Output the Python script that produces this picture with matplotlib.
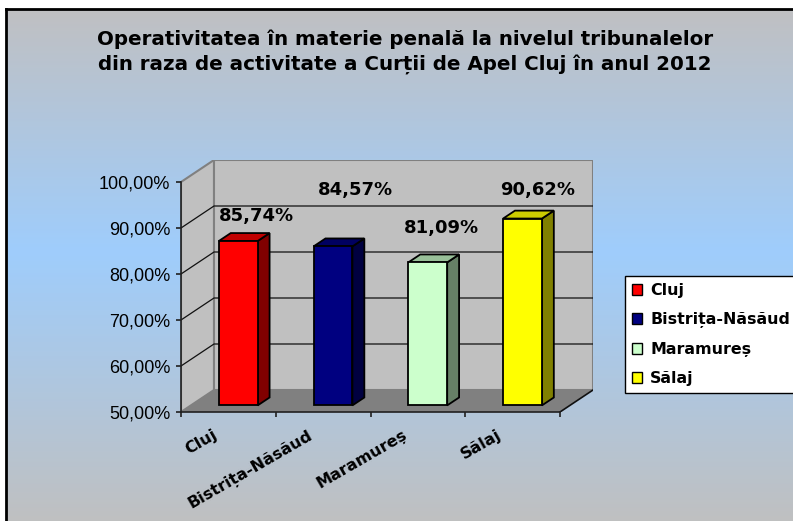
import matplotlib
matplotlib.use("Agg")
import matplotlib.pyplot as plt
import numpy as np
from matplotlib.patches import Polygon, Patch
from matplotlib.colors import LinearSegmentedColormap
from matplotlib.transforms import ScaledTranslation

plt.rcParams["font.family"] = ["Liberation Sans", "DejaVu Sans"]
BOLD = ["DejaVu Sans"]  # wider bold face, closer to the spaced-out original

# data
categories = ["Cluj", "Bistrița-Năsăud", "Maramureș", "Sălaj"]
values = [85.74, 84.57, 81.09, 90.62]
yticks = [50, 60, 70, 80, 90, 100]
title = ("Operativitatea în materie penală la nivelul tribunalelor\n"
         "din raza de activitate a Curții de Apel Cluj în anul 2012")

# style / layout
front_col = ["#ff0000", "#000080", "#ccffcc", "#ffff00"]
side_col = ["#800000", "#000040", "#668066", "#808000"]
top_col = ["#c00000", "#000060", "#99c099", "#cccc00"]
label_off_px = [(12, -21), (16, -52), (8, -30), (9, -25)]

W, H = 793, 521
DPI = 100
X0, Y0 = 181, 412          # front origin (pixels)
UNIT_X = 94.75             # px per category
UNIT_Y = 4.6               # px per percent
DEPTH_PX = (33, 22)
DX = DEPTH_PX[0] / UNIT_X  # depth shift in data units
DY = DEPTH_PX[1] / UNIT_Y
BW = 0.41                  # bar width (categories)
W0, W1 = 0.30, 0.66        # bar depth range

fig = plt.figure(figsize=(W / DPI, H / DPI), dpi=DPI, facecolor="white")

# background gradient of the chart area
bg = fig.add_axes([6 / W, -0.01, 1.02, 1 - 9 / H + 0.01])
cmap = LinearSegmentedColormap.from_list(
    "bg", [(0, "#c0c0c2"), (0.47, "#9fcdfc"), (1, "#c0c0c0")])
bg.imshow(np.linspace(0, 1, 256)[:, None], aspect="auto", cmap=cmap,
          extent=[0, 1, 0, 1])
bg.set_xticks([])
bg.set_yticks([])
for s in ("right", "bottom"):
    bg.spines[s].set_visible(False)
for s in ("left", "top"):
    bg.spines[s].set_linewidth(2)
bg.set_zorder(0)

right_px = X0 + 4 * UNIT_X + DEPTH_PX[0]
top_px = Y0 - 50 * UNIT_Y - DEPTH_PX[1]
ax = fig.add_axes([X0 / W, 1 - Y0 / H, (right_px - X0) / W, (Y0 - top_px) / H])
ax.set_xlim(0, 4 + DX)
ax.set_ylim(50, 100 + DY)
ax.patch.set_alpha(0)
ax.set_zorder(1)
n = len(categories)

# walls
ax.add_patch(Polygon([(0, 50), (0, 100), (DX, 100 + DY), (DX, 50 + DY)],
                     closed=True, fc="#c0c0c0", ec="#808080", lw=1.5, zorder=1))
ax.add_patch(Polygon([(DX, 50 + DY), (n + DX, 50 + DY), (n + DX, 100 + DY), (DX, 100 + DY)],
                     closed=True, fc="#c0c0c0", ec="#808080", lw=1.5, zorder=1))
# gridlines
for v in yticks[1:-1]:
    ax.plot([0, DX, n + DX], [v, v + DY, v + DY], color="#101010", lw=0.9, zorder=2)
# floor
ax.add_patch(Polygon([(0, 50), (n, 50), (n + DX, 50 + DY), (DX, 50 + DY)],
                     closed=True, fc="#808080", ec="none", zorder=3))
ax.plot([n, n + DX], [50, 50 + DY], color="#101010", lw=1.2, zorder=3)

# bars
for i, v in enumerate(values):
    u0 = i + 0.5 - BW / 2
    u1 = u0 + BW
    a0, b0 = W0 * DX, W0 * DY
    a1, b1 = W1 * DX, W1 * DY
    faces = [
        ([(u1 + a0, 50 + b0), (u1 + a1, 50 + b1), (u1 + a1, v + b1), (u1 + a0, v + b0)], side_col[i]),
        ([(u0 + a0, v + b0), (u1 + a0, v + b0), (u1 + a1, v + b1), (u0 + a1, v + b1)], top_col[i]),
        ([(u0 + a0, 50 + b0), (u1 + a0, 50 + b0), (u1 + a0, v + b0), (u0 + a0, v + b0)], front_col[i]),
    ]
    for pts, c in faces:
        ax.add_patch(Polygon(pts, closed=True, fc=c, ec="black", lw=1.3,
                             joinstyle="miter", zorder=4))
    lx, ly = label_off_px[i]
    ax.annotate(f"{v:.2f}".replace(".", ",") + "%",
                xy=(i + 0.5 + 0.48 * DX, v + 0.48 * DY),
                xytext=(lx * 72 / DPI, -ly * 72 / DPI), textcoords="offset points",
                ha="center", va="center", fontsize=13, fontweight="bold",
                family=BOLD, zorder=6)

# axes lines and ticks
for s in ("top", "right"):
    ax.spines[s].set_visible(False)
ax.spines["left"].set_bounds(50, 100)
ax.spines["bottom"].set_bounds(0, n)
for s in ("left", "bottom"):
    ax.spines[s].set_color("#202020")
    ax.spines[s].set_linewidth(1.2)
    ax.spines[s].set_zorder(5)

ax.set_yticks(yticks)
ax.set_yticklabels([f"{t:.2f}".replace(".", ",") + "%" for t in yticks])
ax.tick_params(axis="y", length=5 * 72 / DPI, width=1.2, pad=4, labelsize=13,
               color="#202020")

ax.set_xticks(range(n + 1))
ax.set_xticklabels([])
ax.tick_params(axis="x", which="major", length=5 * 72 / DPI, width=1.2, color="#202020")
ax.set_xticks([i + 0.5 for i in range(n)], categories, minor=True)
ax.tick_params(axis="x", which="minor", length=0, pad=11)
shift = ScaledTranslation(-16 / DPI, 0, fig.dpi_scale_trans)
for lab in ax.get_xticklabels(minor=True):
    lab.set_rotation(30)
    lab.set_rotation_mode("anchor")
    lab.set_ha("right")
    lab.set_va("top")
    lab.set_fontweight("bold")
    lab.set_family(BOLD)
    lab.set_fontsize(11.5)
    lab.set_transform(lab.get_transform() + shift)

fig.text(0.511, 1 - 51.5 / H, title, ha="center", va="center", fontsize=14.3,
         fontweight="bold", family=BOLD, linespacing=1.35, zorder=3)

handles = [Patch(fc=c, ec="black", lw=1) for c in front_col]
fig.legend(handles, categories, loc="upper left",
           bbox_to_anchor=(625 / W, 1 - 276 / H), frameon=True, fancybox=False,
           edgecolor="black", facecolor="white", framealpha=1,
           prop={"weight": "bold", "size": 11.4, "family": BOLD},
           handlelength=0.65, handleheight=0.65,
           handletextpad=0.5, labelspacing=0.88, borderpad=0.45, borderaxespad=0)

fig.savefig("out.png", dpi=DPI, facecolor="white")
